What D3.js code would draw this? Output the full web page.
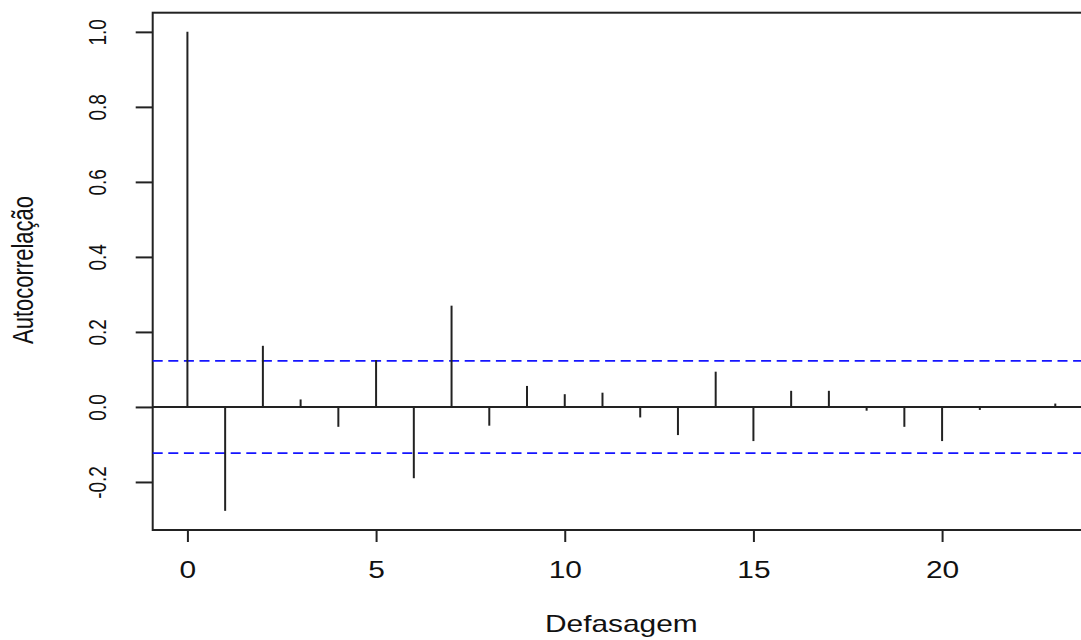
<!DOCTYPE html>
<html>
<head>
<meta charset="utf-8">
<script src="https://cdn.jsdelivr.net/npm/d3@7"></script>
<style>
  body { margin: 0; background: #fff; }
  svg { display: block; }
  text { font-family: "Liberation Sans", Arial, sans-serif; fill: #111; }
</style>
</head>
<body>
<div id="container"></div>
<script>
// lags and sample autocorrelations
const lags = [0, 1, 2, 3, 4, 5, 6, 7, 8, 9, 10, 11, 12, 13, 14, 15, 16, 17, 18, 19, 20, 21, 22, 23];
const acfValues = [1.0, -0.277, 0.163, 0.02, -0.053, 0.125, -0.19, 0.27, -0.05, 0.056, 0.034, 0.038,
  -0.028, -0.075, 0.094, -0.091, 0.043, 0.043, -0.01, -0.053, -0.091, -0.008, 0.002, 0.009];
const ciBounds = [0.123, -0.123];
const xTicks = [0, 5, 10, 15, 20];
const yTicks = [-0.2, 0.0, 0.2, 0.4, 0.6, 0.8, 1.0];
const xLabel = "Defasagem";
const yLabel = "Autocorrelação";

const w = 1081;
const h = 640;
const plotL = 152.7, plotT = 12.7, plotR = 1090, plotB = 530;

const svg = d3.select("#container")
  .append("svg")
  .attr("width", w)
  .attr("height", h);

// R style 4% extension on both axes
const xMin = d3.min(lags), xMax = d3.max(lags);
const xPad = (xMax - xMin) * 0.04;
const xScale = d3.scaleLinear()
  .domain([xMin - xPad, xMax + xPad])
  .range([plotL, plotR]);

const yMin = d3.min(acfValues), yMax = d3.max(acfValues);
const yPad = (yMax - yMin) * 0.04;
const yScale = d3.scaleLinear()
  .domain([yMin - yPad, yMax + yPad])
  .range([plotB, plotT]);

//THE AXES
const xAxis = d3.axisBottom(xScale)
  .tickValues(xTicks)
  .tickSize(12)
  .tickSizeOuter(0)
  .tickFormat(d3.format("d"));

const gx = svg.append("g")
  .attr("transform", `translate(0, ${plotB})`)
  .call(xAxis);
gx.select(".domain").remove();
gx.selectAll("line").attr("stroke", "#222").attr("stroke-width", 2);
gx.selectAll("text")
  .attr("y", null)
  .attr("dy", null)
  .attr("transform", "translate(0, 48) scale(1.3, 1)")
  .attr("font-family", "Liberation Sans, Arial, sans-serif")
  .attr("font-size", 23)
  .attr("fill", "#111");

const yAxis = d3.axisLeft(yScale)
  .tickValues(yTicks)
  .tickSize(17)
  .tickSizeOuter(0)
  .tickFormat(d => d.toFixed(1));

const gy = svg.append("g")
  .attr("transform", `translate(${plotL}, 0)`)
  .call(yAxis);
gy.select(".domain").remove();
gy.selectAll("line").attr("stroke", "#222").attr("stroke-width", 2);
gy.selectAll("text")
  .attr("x", null)
  .attr("dy", null)
  .attr("text-anchor", "middle")
  .attr("transform", `translate(${106 - plotL}, 0) scale(1.25, 1) rotate(-90)`)
  .attr("font-family", "Liberation Sans, Arial, sans-serif")
  .attr("font-size", 19)
  .attr("fill", "#111");

//THE BOX
svg.append("rect")
  .attr("x", plotL)
  .attr("y", plotT)
  .attr("width", plotR - plotL)
  .attr("height", plotB - plotT)
  .attr("fill", "none")
  .attr("stroke", "#222")
  .attr("stroke-width", 2);

//ZERO LINE
svg.append("line")
  .attr("x1", plotL)
  .attr("x2", plotR)
  .attr("y1", yScale(0))
  .attr("y2", yScale(0))
  .attr("stroke", "#222")
  .attr("stroke-width", 2);

//CONFIDENCE BOUNDS
svg.selectAll(".ci")
  .data(ciBounds)
  .enter()
  .append("line")
  .attr("class", "ci")
  .attr("x1", plotL)
  .attr("x2", plotR)
  .attr("y1", d => yScale(d))
  .attr("y2", d => yScale(d))
  .attr("stroke", "#1515ff")
  .attr("stroke-width", 1.8)
  .attr("stroke-dasharray", "10,5.6");

//THE SPIKES
svg.selectAll(".spike")
  .data(lags)
  .enter()
  .append("line")
  .attr("class", "spike")
  .attr("x1", d => xScale(d))
  .attr("x2", d => xScale(d))
  .attr("y1", yScale(0))
  .attr("y2", (d, i) => yScale(acfValues[i]))
  .attr("stroke", "#222")
  .attr("stroke-width", 2);

//AXIS TITLES
svg.append("text")
  .attr("text-anchor", "middle")
  .attr("transform", `translate(${(plotL + plotR) / 2}, 632) scale(1.3, 1)`)
  .attr("font-size", 23)
  .text(xLabel);

svg.append("text")
  .attr("text-anchor", "middle")
  .attr("transform", "translate(33, 270) scale(1.3, 1) rotate(-90)")
  .attr("font-size", 22)
  .text(yLabel);
</script>
</body>
</html>
